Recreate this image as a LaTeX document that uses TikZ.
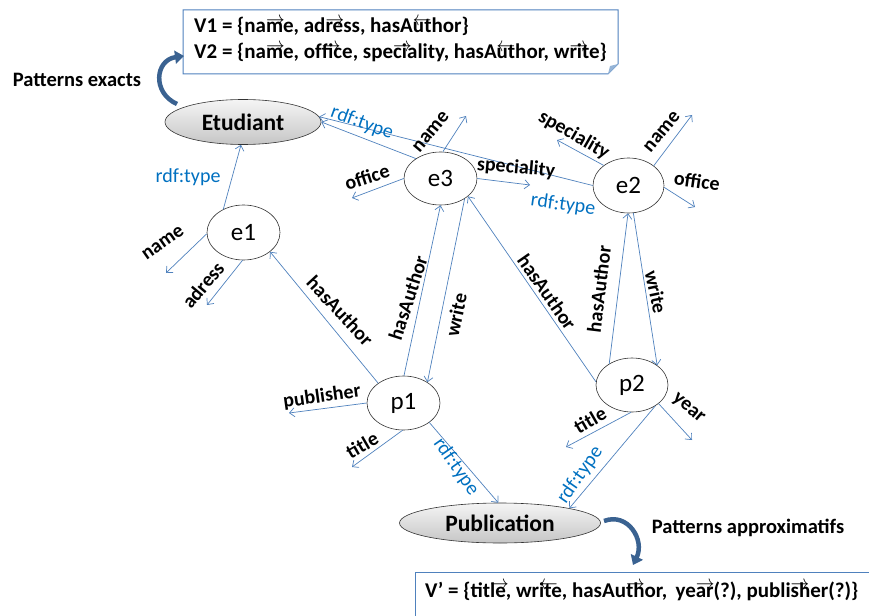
\documentclass[tikz,border=0pt]{standalone}
\usepackage{fontspec}
\setmainfont{Carlito}
\usetikzlibrary{arrows.meta,shapes.geometric}
\definecolor{edgeblue}{RGB}{79,129,189}
\definecolor{labblue}{RGB}{0,112,192}
\definecolor{darkarr}{RGB}{58,98,145}
\definecolor{boxblue}{RGB}{79,129,189}
\newcommand\ovr{\rlap{\raisebox{0.37em}{\scalebox{0.9}[1]{$\rightarrow$}}}}
\newcommand\ovl{\rlap{\raisebox{0.37em}{\scalebox{0.9}[1]{$\leftarrow$}}}}
\tikzset{
  lab/.style={font=\fontsize{20}{20}\selectfont\bfseries, inner sep=0pt},
  rdf/.style={font=\fontsize{20}{20}\selectfont, text=labblue, inner sep=0pt},
  big/.style={font=\fontsize{20.5}{20.5}\selectfont\bfseries, inner sep=0pt},
  boxtxt/.style={font=\fontsize{21}{21}\selectfont\bfseries, inner sep=0pt, anchor=base west},
  enode/.style={ellipse, draw=black!80, line width=0.6pt, fill=white, inner sep=0pt, font=\fontsize{25}{25}\selectfont},
  cls/.style={ellipse, draw=black!80, line width=0.6pt, top color=gray!8, bottom color=gray!45, inner sep=0pt, font=\fontsize{23.5}{23.5}\selectfont\bfseries},
  link/.style={draw=edgeblue, line width=0.7pt, -{Straight Barb[length=5pt,width=9pt]}},
  bigarr/.style={draw=darkarr, line width=4.5pt, -{Triangle[length=9pt,width=13pt]}},
}
\begin{document}
\begin{tikzpicture}[x=1pt,y=-1pt]
\useasboundingbox (0,0) rectangle (869,615);
% boxes
\draw[boxblue, line width=1pt, fill=white] (183,10) -- (618,10) -- (618,64) -- (608,74) -- (183,74) -- cycle;
\fill[boxblue!60] (608,74) -- (618,64) -- (610,66) -- cycle;
\draw[boxblue, line width=1pt] (415,620) -- (415,572) -- (875,572);
\node[boxtxt] (v1) at (194,33) {V1 = \{na\ovr me, ad\ovr ress, hasA\ovl uthor\}};
\node[boxtxt] (v2) at (194,59) {V2 = \{na\ovr me, of\ovr fice, spe\ovr ciality, hasA\ovl uthor, w\ovr rite\}};
\node[boxtxt] (vp) at (425,597) {V’ = \{tit\ovr le, wr\ovl ite, hasAu\ovr thor,\, ye\ovr ar(?), publi\ovr sher(?)\}};
% main nodes
\node[cls, minimum width=156pt, minimum height=45pt] (etu) at (243,122) {Etudiant};
\node[cls, minimum width=201pt, minimum height=40pt] (pub) at (500,523) {Publication};
\node[enode, minimum width=73pt, minimum height=55pt] (e1) at (243.5,232.5) {e1};
\node[enode, minimum width=73pt, minimum height=53pt] (e3) at (440.5,178.5) {e3};
\node[enode, minimum width=71pt, minimum height=55pt] (e2) at (628.5,185.5) {e2};
\node[enode, minimum width=73pt, minimum height=54pt] (p1) at (403.5,403) {p1};
\node[enode, minimum width=72pt, minimum height=54pt] (p2) at (632,385) {p2};
% free ends
\coordinate (e1n) at (166,273);
\coordinate (e1a) at (207,305);
\coordinate (p1t) at (352,467);
\coordinate (p1p) at (289,413);
\coordinate (e3o) at (352,198);
\coordinate (e3n) at (466,116);
\coordinate (e3s) at (530,185);
\coordinate (e2s) at (557,140);
\coordinate (e2n) at (692,115);
\coordinate (e2o) at (695,207);
\coordinate (p2t) at (566,447);
\coordinate (p2y) at (692,440);
% edges
\draw[link] (e1.131) -- (etu.265);
\draw[link] (e1.182) -- (e1n);
\draw[link] (e1.268) -- (e1a);
\draw[link] (p1.142) -- (e1.-36);
\draw[link] (p1.89) -- (e3.270);
\draw[link] (e3.-40) -- (p1.41);
\draw[link] (p2.175) -- (e3.-33);
\draw[link] (p2.137) -- (e2.269);
\draw[link] (e2.-80) -- (p2.38);
\draw[link] (p2.268) -- (p2t);
\draw[link] (p2.-35) -- (p2y);
\draw[link] (p2.-42) -- (pub.12);
\draw[link] (p1.-37) -- (pub.95);
\draw[link] (p1.268) -- (p1t);
\draw[link] (p1.180) -- (p1p);
\draw[link] (e3.180) -- (e3o);
\draw[link] (e3.85) -- (e3n);
\draw[link] (e3.141) -- (etu.0);
\draw[link] (e2.180) -- (etu.4);
\draw[link] (e2.141) -- (e2s);
\draw[link] (e2.38) -- (e2n);
\draw[link] (e2.-3) -- (e2o);
\draw[link] (e3.0) -- (e3s);
% labels
\node[rdf] (l1) at (188,177) {rdf:type};
\node[lab, rotate=35] (l2) at (163,243) {name};
\node[lab, rotate=50] (l3) at (203,285) {adress};
\node[lab, rotate=-47] (l4) at (340,311) {hasAuthor};
\node[lab, rotate=72] (l5) at (408,298) {hasAuthor};
\node[lab, rotate=78] (l6) at (456,315) {write};
\node[lab, rotate=-55] (l7) at (547,292) {hasAuthor};
\node[lab, rotate=83] (l8) at (599,289) {hasAuthor};
\node[lab, rotate=-78] (l9) at (656,292) {write};
\node[lab, rotate=30] (l10) at (590,420) {title};
\node[lab, rotate=-40] (l11) at (688,409) {year};
\node[rdf, rotate=55] (l12) at (580,475) {rdf:type};
\node[rdf, rotate=-55] (l13) at (456,467) {rdf:type};
\node[lab, rotate=30] (l14) at (362,445) {title};
\node[lab, rotate=8] (l15) at (322,397) {publisher};
\node[lab, rotate=18] (l16) at (367,177) {office};
\node[lab, rotate=50] (l17) at (431,132) {name};
\node[rdf, rotate=-20] (l18) at (362,123) {rdf:type};
\node[lab, rotate=-5] (l19) at (516,168) {speciality};
\node[rdf, rotate=-8] (l20) at (563,205) {rdf:type};
\node[lab, rotate=-30] (l21) at (574,135) {speciality};
\node[lab, rotate=50] (l22) at (662,132) {name};
\node[lab, rotate=-8] (l23) at (697,181) {office};
% pattern arrows
\coordinate (ta1) at (177,104);
\coordinate (ta2) at (184,56);
\draw[bigarr] (ta1) .. controls (152,93) and (155,60) .. (ta2);
\node[big] (pe) at (77,80) {Patterns exacts};
\coordinate (tb1) at (604,521);
\coordinate (tb2) at (633,565);
\draw[bigarr] (tb1) .. controls (628,512) and (645,540) .. (tb2);
\node[big] (pa) at (748,528) {Patterns approximatifs};
\end{tikzpicture}
\end{document}
